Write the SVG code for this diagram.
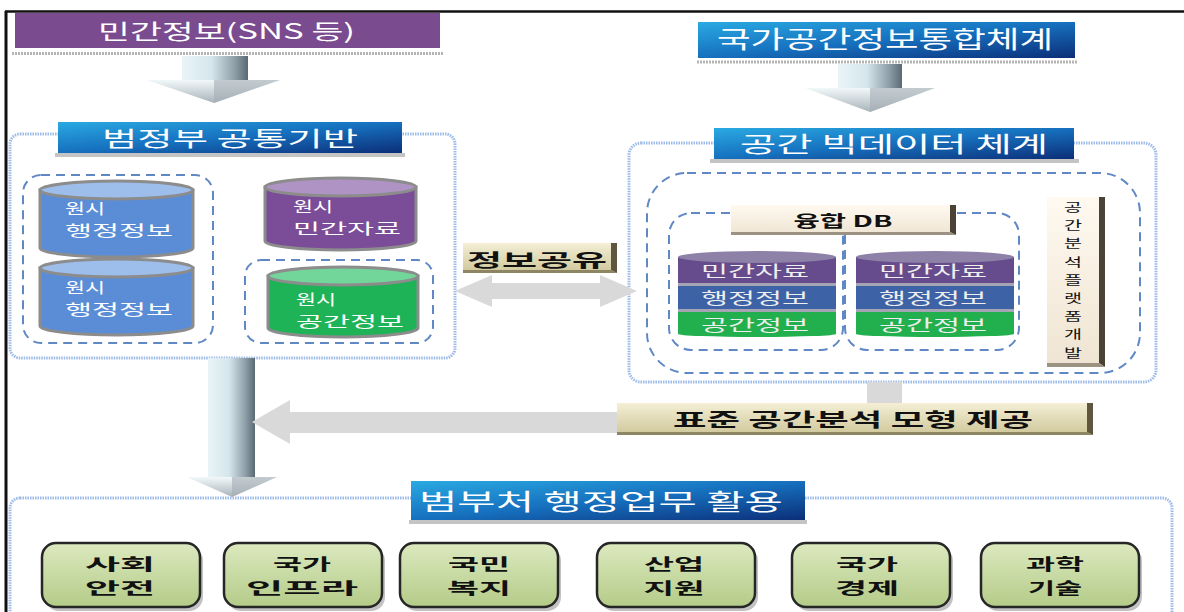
<svg xmlns="http://www.w3.org/2000/svg" width="1184" height="612" viewBox="0 0 1184 612">
<style>
  .ko { font-family: "Noto Sans CJK KR", "Noto Sans", sans-serif; }
  .wt { fill: #ffffff; }
  .bk { fill: #111111; font-weight: bold; }
  .panel { fill: #ffffff; stroke: #9DBBE9; stroke-width: 3; stroke-dasharray: 1.5 1; }
  .dash { fill: none; stroke: #5F88C4; stroke-width: 2; stroke-dasharray: 9 6; }
  .strip { stroke: #B5B5B5; stroke-width: 3; stroke-dasharray: 2 1; }
  .cylb { stroke: #8C8C8C; stroke-width: 3; }
  .gray { fill: #D9D9D9; }
  .sep { fill: #A4A4B4; }
  .btn { fill: url(#gBtn); stroke: #262626; stroke-width: 2.5; }
  .st { fill: #EEEEEE; }
</style>
<defs>
  <linearGradient id="gTitle" x1="0" y1="0" x2="1" y2="1">
    <stop offset="0" stop-color="#2AAAE2"/>
    <stop offset="0.5" stop-color="#1670BE"/>
    <stop offset="1" stop-color="#0C2E78"/>
  </linearGradient>
  <linearGradient id="gSilver" x1="0" y1="0" x2="1" y2="0">
    <stop offset="0" stop-color="#E9F4F8"/>
    <stop offset="0.45" stop-color="#D5E6EC"/>
    <stop offset="0.8" stop-color="#8E9EA8"/>
    <stop offset="1" stop-color="#5A6A74"/>
  </linearGradient>
  <linearGradient id="gSilverHead" x1="0" y1="0" x2="0" y2="1">
    <stop offset="0" stop-color="#F2F8FA"/>
    <stop offset="1" stop-color="#A8B4BA"/>
  </linearGradient>
  <linearGradient id="gBeige" x1="0" y1="0" x2="0" y2="1">
    <stop offset="0" stop-color="#F4EFD6"/>
    <stop offset="1" stop-color="#CFC699"/>
  </linearGradient>
  <linearGradient id="gCream" x1="0" y1="0" x2="0" y2="1">
    <stop offset="0" stop-color="#FFF9F0"/>
    <stop offset="1" stop-color="#EFE4D2"/>
  </linearGradient>
  <linearGradient id="gBtn" x1="0" y1="0" x2="0" y2="1">
    <stop offset="0" stop-color="#DCE9BF"/>
    <stop offset="1" stop-color="#B4CB88"/>
  </linearGradient>
</defs>

<rect width="1184" height="612" fill="#ffffff"/>
<line x1="6" y1="11" x2="6" y2="612" stroke="#111" stroke-width="3"/>
<line x1="5" y1="11.5" x2="1184" y2="11.5" stroke="#111" stroke-width="2.5"/>

<g id="panel-left-frame"><rect class="panel" x="10" y="134" width="445" height="224" rx="10"/></g>
<g id="panel-right-frame"><rect class="panel" x="629" y="143" width="527" height="239" rx="12"/></g>
<g id="panel-bottom-frame"><rect class="panel" x="10" y="498" width="1162" height="140" rx="10"/></g>

<g id="connectors">
  <rect x="182" y="56" width="66" height="25" fill="url(#gSilver)"/>
  <polygon points="147,80 280,80 214,103" fill="url(#gSilverHead)"/>
  <polygon points="214,80 280,80 214,103" fill="#A3AEB4" opacity="0.6"/>
  <rect x="838" y="64" width="64" height="25" fill="url(#gSilver)"/>
  <polygon points="805,88 935,88 870,112" fill="url(#gSilverHead)"/>
  <polygon points="870,88 935,88 870,112" fill="#A3AEB4" opacity="0.6"/>
  <rect x="208" y="358" width="47" height="120" fill="url(#gSilver)"/>
  <polygon points="187,477 277,477 232,497" fill="url(#gSilverHead)"/>
  <polygon points="232,477 277,477 232,497" fill="#A3AEB4" opacity="0.6"/>
  <polygon class="gray" points="455,291 492,275 492,283 600,283 600,275 637,291 600,307 600,299 492,299 492,307"/>
  <rect class="gray" x="867" y="382" width="35" height="23"/>
  <polygon class="gray" points="252,422 290,400 290,412 640,412 640,433 290,433 290,444"/>
</g>

<g id="node-private-info">
  <rect x="15" y="13" width="425" height="35" fill="#7A4B8E"/>
  <line class="strip" x1="12" y1="53.5" x2="443" y2="53.5"/>
  <text class="ko wt" x="226.5" y="39" font-size="21" text-anchor="middle" textLength="257" lengthAdjust="spacingAndGlyphs">민간정보(SNS 등)</text>
</g>

<g id="node-national-spatial">
  <rect x="698" y="22" width="377" height="36" fill="url(#gTitle)"/>
  <line class="strip" x1="697" y1="62" x2="1078" y2="62"/>
  <text class="ko wt" x="885" y="48" font-size="24" text-anchor="middle" textLength="336" lengthAdjust="spacingAndGlyphs">국가공간정보통합체계</text>
</g>

<g id="node-gov-common">
  <rect x="55" y="153" width="350" height="4" fill="#C4C4C4"/>
  <rect x="58" y="122" width="344" height="31" fill="url(#gTitle)"/>
  <text class="ko wt" x="230" y="146" font-size="21" text-anchor="middle" textLength="256" lengthAdjust="spacingAndGlyphs">범정부 공통기반</text>
  <rect class="dash" x="23" y="175" width="190" height="168" rx="18"/>
  <rect class="dash" x="245" y="260" width="188" height="83" rx="16"/>
</g>

<g id="node-raw-admin-1">
  <path class="cylb" d="M40,190 L40,248 A76.5,9 0 0 0 193,248 L193,190 Z" fill="#5A8DD6"/>
  <ellipse class="cylb" cx="116.5" cy="190" rx="76.5" ry="9" fill="#9DBDEB"/>
  <text class="ko wt" font-size="15"><tspan x="65" y="214" textLength="40" lengthAdjust="spacingAndGlyphs">원시</tspan><tspan x="65" y="236" textLength="108" lengthAdjust="spacingAndGlyphs">행정정보</tspan></text>
</g>
<g id="node-raw-admin-2">
  <path class="cylb" d="M40,268 L40,326 A76.5,9 0 0 0 193,326 L193,268 Z" fill="#5A8DD6"/>
  <ellipse class="cylb" cx="116.5" cy="268" rx="76.5" ry="9" fill="#9DBDEB"/>
  <text class="ko wt" font-size="15"><tspan x="65" y="293" textLength="40" lengthAdjust="spacingAndGlyphs">원시</tspan><tspan x="65" y="315" textLength="108" lengthAdjust="spacingAndGlyphs">행정정보</tspan></text>
</g>
<g id="node-raw-private">
  <path class="cylb" d="M265,187 L265,241 A75.5,9 0 0 0 416,241 L416,187 Z" fill="#7B4C98"/>
  <ellipse class="cylb" cx="340.5" cy="187" rx="75.5" ry="9" fill="#AE93C4"/>
  <text class="ko wt" font-size="15"><tspan x="293" y="212" textLength="40" lengthAdjust="spacingAndGlyphs">원시</tspan><tspan x="293" y="234" textLength="108" lengthAdjust="spacingAndGlyphs">민간자료</tspan></text>
</g>
<g id="node-raw-spatial">
  <path class="cylb" d="M268,276 L268,328 A75,9 0 0 0 418,328 L418,276 Z" fill="#1DB356"/>
  <ellipse class="cylb" cx="343" cy="276" rx="75" ry="9" fill="#72D59A"/>
  <text class="ko wt" font-size="15"><tspan x="296" y="305" textLength="40" lengthAdjust="spacingAndGlyphs">원시</tspan><tspan x="296" y="327" textLength="108" lengthAdjust="spacingAndGlyphs">공간정보</tspan></text>
</g>

<g id="node-info-share">
  <rect x="463" y="243" width="154" height="30" fill="url(#gBeige)"/>
  <polygon points="611,243 617,243 617,273 611,270" fill="#5E563E"/>
  <polygon points="463,270 611,270 617,273 463,273" fill="#8E8564"/>
  <text class="ko bk" x="537" y="267" font-size="18" text-anchor="middle" textLength="140" lengthAdjust="spacingAndGlyphs">정보공유</text>
</g>

<g id="node-spatial-bigdata">
  <rect x="710" y="159" width="369" height="4" fill="#C4C4C4"/>
  <rect x="714" y="128" width="360" height="31" fill="url(#gTitle)"/>
  <text class="ko wt" x="894" y="152" font-size="22" text-anchor="middle" textLength="308" lengthAdjust="spacingAndGlyphs">공간 빅데이터 체계</text>
  <rect class="dash" x="647" y="173" width="493" height="200" rx="40"/>
  <rect class="dash" x="669" y="213" width="174" height="137" rx="22"/>
  <rect class="dash" x="845" y="213" width="174" height="137" rx="22"/>
</g>

<g id="node-fusion-db">
  <rect x="731" y="205" width="225" height="30" fill="url(#gCream)"/>
  <polygon points="950,205 956,205 956,235 950,232" fill="#4A4236"/>
  <polygon points="731,232 950,232 956,235 731,235" fill="#9C9282"/>
  <text class="ko bk" x="843" y="227" font-size="16" text-anchor="middle" textLength="99" lengthAdjust="spacingAndGlyphs">융합 DB</text>
</g>

<g id="node-stack-left">
  <rect x="678" y="257" width="158" height="26" fill="#664C8C"/>
  <ellipse cx="757" cy="257" rx="79" ry="6" fill="#8E81A8"/>
  <rect class="sep" x="678" y="283" width="158" height="3"/>
  <rect x="678" y="286" width="158" height="23" fill="#3D62A6"/>
  <rect class="sep" x="678" y="309" width="158" height="3"/>
  <path d="M678,312 L836,312 L836,334 A79,3 0 0 1 678,334 Z" fill="#21B04D"/>
  <text class="ko st" font-size="16" text-anchor="middle"><tspan x="755" y="277" textLength="108" lengthAdjust="spacingAndGlyphs">민간자료</tspan><tspan x="755" y="304" textLength="108" lengthAdjust="spacingAndGlyphs">행정정보</tspan><tspan x="755" y="331" textLength="108" lengthAdjust="spacingAndGlyphs">공간정보</tspan></text>
</g>

<g id="node-stack-right">
  <rect x="856" y="257" width="158" height="26" fill="#664C8C"/>
  <ellipse cx="935" cy="257" rx="79" ry="6" fill="#8E81A8"/>
  <rect class="sep" x="856" y="283" width="158" height="3"/>
  <rect x="856" y="286" width="158" height="23" fill="#3D62A6"/>
  <rect class="sep" x="856" y="309" width="158" height="3"/>
  <path d="M856,312 L1014,312 L1014,334 A79,3 0 0 1 856,334 Z" fill="#21B04D"/>
  <text class="ko st" font-size="16" text-anchor="middle"><tspan x="933" y="277" textLength="108" lengthAdjust="spacingAndGlyphs">민간자료</tspan><tspan x="933" y="304" textLength="108" lengthAdjust="spacingAndGlyphs">행정정보</tspan><tspan x="933" y="331" textLength="108" lengthAdjust="spacingAndGlyphs">공간정보</tspan></text>
</g>

<g id="node-platform">
  <rect x="1047" y="197" width="58" height="170" fill="url(#gCream)"/>
  <polygon points="1099,197 1105,197 1105,367 1099,363" fill="#4A4236"/>
  <polygon points="1047,363 1099,363 1105,367 1047,367" fill="#9C9282"/>
  <text class="ko" fill="#111111" font-size="12.5" text-anchor="middle"><tspan x="1073" y="212" textLength="18" lengthAdjust="spacingAndGlyphs">공</tspan><tspan x="1073" y="230.2" textLength="18" lengthAdjust="spacingAndGlyphs">간</tspan><tspan x="1073" y="248.4" textLength="18" lengthAdjust="spacingAndGlyphs">분</tspan><tspan x="1073" y="266.6" textLength="18" lengthAdjust="spacingAndGlyphs">석</tspan><tspan x="1073" y="284.8" textLength="18" lengthAdjust="spacingAndGlyphs">플</tspan><tspan x="1073" y="303" textLength="18" lengthAdjust="spacingAndGlyphs">랫</tspan><tspan x="1073" y="321.2" textLength="18" lengthAdjust="spacingAndGlyphs">폼</tspan><tspan x="1073" y="339.4" textLength="18" lengthAdjust="spacingAndGlyphs">개</tspan><tspan x="1073" y="357.6" textLength="18" lengthAdjust="spacingAndGlyphs">발</tspan></text>
</g>

<g id="node-standard-model">
  <rect x="617" y="403" width="476" height="32" fill="url(#gBeige)"/>
  <polygon points="1087,403 1093,403 1093,435 1087,432" fill="#5E563E"/>
  <polygon points="617,432 1087,432 1093,435 617,435" fill="#8E8564"/>
  <text class="ko bk" x="853" y="427" font-size="19" text-anchor="middle" textLength="360" lengthAdjust="spacingAndGlyphs">표준 공간분석 모형 제공</text>
</g>

<g id="node-ministry-use">
  <rect x="409" y="520" width="398" height="4" fill="#C4C4C4"/>
  <rect x="411" y="481" width="394" height="39" fill="url(#gTitle)"/>
  <text class="ko wt" x="601" y="510" font-size="23" text-anchor="middle" textLength="364" lengthAdjust="spacingAndGlyphs">범부처 행정업무 활용</text>
</g>

<g id="node-btn-1">
  <rect x="45" y="547" width="158" height="64" rx="14" fill="#9A9A9A" opacity="0.6"/>
  <rect class="btn" x="42" y="543" width="158" height="64" rx="14"/>
  <text class="ko bk" font-size="16" text-anchor="middle"><tspan x="120" y="570" textLength="70" lengthAdjust="spacingAndGlyphs">사회</tspan><tspan x="120" y="593.5" textLength="70" lengthAdjust="spacingAndGlyphs">안전</tspan></text>
</g>
<g id="node-btn-2">
  <rect x="227" y="547" width="158" height="64" rx="14" fill="#9A9A9A" opacity="0.6"/>
  <rect class="btn" x="224" y="543" width="158" height="64" rx="14"/>
  <text class="ko bk" font-size="16" text-anchor="middle"><tspan x="302" y="570" textLength="58" lengthAdjust="spacingAndGlyphs">국가</tspan><tspan x="302" y="593.5" textLength="112" lengthAdjust="spacingAndGlyphs">인프라</tspan></text>
</g>
<g id="node-btn-3">
  <rect x="403" y="547" width="158" height="64" rx="14" fill="#9A9A9A" opacity="0.6"/>
  <rect class="btn" x="400" y="543" width="158" height="64" rx="14"/>
  <text class="ko bk" font-size="16" text-anchor="middle"><tspan x="479" y="570" textLength="62" lengthAdjust="spacingAndGlyphs">국민</tspan><tspan x="479" y="593.5" textLength="64" lengthAdjust="spacingAndGlyphs">복지</tspan></text>
</g>
<g id="node-btn-4">
  <rect x="600" y="547" width="158" height="64" rx="14" fill="#9A9A9A" opacity="0.6"/>
  <rect class="btn" x="597" y="543" width="158" height="64" rx="14"/>
  <text class="ko bk" font-size="16" text-anchor="middle"><tspan x="674" y="570" textLength="60" lengthAdjust="spacingAndGlyphs">산업</tspan><tspan x="674" y="593.5" textLength="61" lengthAdjust="spacingAndGlyphs">지원</tspan></text>
</g>
<g id="node-btn-5">
  <rect x="795" y="547" width="158" height="64" rx="14" fill="#9A9A9A" opacity="0.6"/>
  <rect class="btn" x="792" y="543" width="158" height="64" rx="14"/>
  <text class="ko bk" font-size="16" text-anchor="middle"><tspan x="867" y="570" textLength="62" lengthAdjust="spacingAndGlyphs">국가</tspan><tspan x="867" y="593.5" textLength="64" lengthAdjust="spacingAndGlyphs">경제</tspan></text>
</g>
<g id="node-btn-6">
  <rect x="984" y="547" width="158" height="64" rx="14" fill="#9A9A9A" opacity="0.6"/>
  <rect class="btn" x="981" y="543" width="158" height="64" rx="14"/>
  <text class="ko bk" font-size="16" text-anchor="middle"><tspan x="1055" y="570" textLength="58" lengthAdjust="spacingAndGlyphs">과학</tspan><tspan x="1055" y="593.5" textLength="54" lengthAdjust="spacingAndGlyphs">기술</tspan></text>
</g>
</svg>
